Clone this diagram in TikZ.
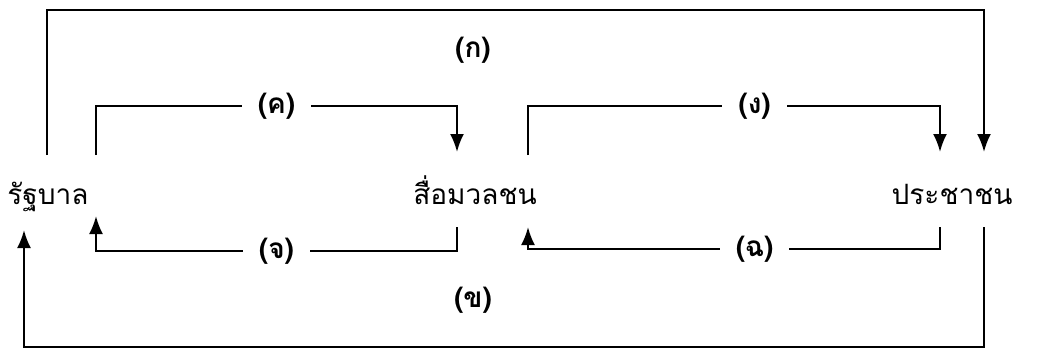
\documentclass[tikz,border=0pt]{standalone}
\usepackage{fontspec}
\usetikzlibrary{arrows.meta}
\newfontfamily\thaifont[Script=Thai]{Loma}
\begin{document}
\begin{tikzpicture}[x=0.5pt,y=-0.5pt,line width=1.1pt,>={Latex[length=9pt,width=7pt]}]
        \useasboundingbox (0,0) rectangle (1037,349);
        \tikzstyle{every node}=[font=\thaifont\fontsize{14}{16}\selectfont, anchor=base]
        \node (gov)    at (48,  204) {รัฐบาล};
        \node (media)  at (475, 204) {สื่อมวลชน};
        \node (people) at (952, 204) {ประชาชน};
        \tikzstyle{every node}=[font=\thaifont\bfseries\fontsize{14}{16}\selectfont, fill=white, inner xsep=8pt]
        % ends of the connectors
        \coordinate (govA)   at (47, 155);
        \coordinate (govC)   at (96, 155);
        \coordinate (govE)   at (96, 216);
        \coordinate (govB)   at (24, 230);
        \coordinate (mediaC) at (457, 152);
        \coordinate (mediaE) at (457, 227);
        \coordinate (mediaD) at (528, 155);
        \coordinate (mediaF) at (528, 227);
        \coordinate (peopA)  at (984, 152);
        \coordinate (peopD)  at (940, 152);
        \coordinate (peopF)  at (940, 227);
        \coordinate (peopB)  at (984, 227);
        \draw[->] (govA) -- (47, 10) -- (984, 10) -- (peopA);
        \node (lblA) at (473, 50) {(ก)};
        \draw[->] (peopB) -- (984, 347) -- (24, 347) -- (govB);
        \node (lblB) at (473, 300) {(ข)};
        \draw[->] (govC) -- (96, 106) -- node (lblC) {(ค)} (457, 106) -- (mediaC);
        \draw[->] (mediaE) -- (457, 251) -- node (lblE) {(จ)} (96, 251) -- (govE);
        \draw[->] (mediaD) -- (528, 106) -- node[pos=0.55] (lblD) {(ง)} (940, 106) -- (peopD);
        \draw[->] (peopF) -- (940, 249) -- node[pos=0.45] (lblF) {(ฉ)} (528, 249) -- (mediaF);
\end{tikzpicture}
\end{document}
